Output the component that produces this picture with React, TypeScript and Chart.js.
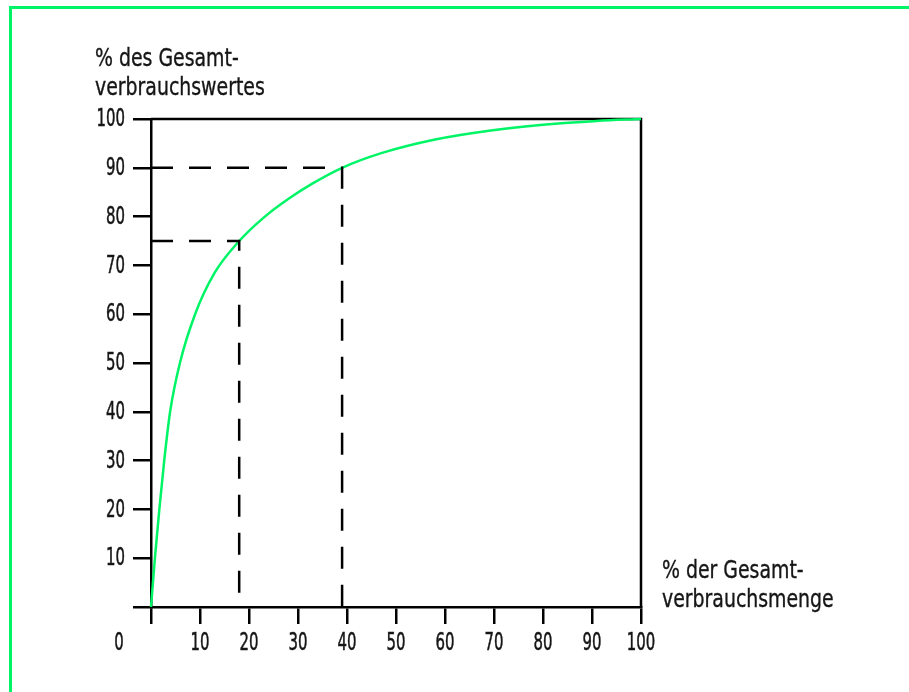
import React, { useEffect, useRef } from "react";
import { Chart, registerables } from "chart.js";

Chart.register(...registerables);

const curveX = [0, 0.8, 1.7, 2.7, 3.9, 5.9, 9, 13, 18, 23, 28, 33, 39, 47, 58, 69, 80, 91, 100];
const curveY = [0, 10, 20, 30, 40, 50, 60, 68.5, 75, 79.8, 83.6, 86.8, 90, 93, 95.8, 97.6, 98.8, 99.6, 100];

const guideA = { x: 18, y: 75 };
const guideB = { x: 39, y: 90 };

const yTickValues = [0, 10, 20, 30, 40, 50, 60, 70, 80, 90, 100];
const xTickValues = [0, 10, 20, 30, 40, 50, 60, 70, 80, 90, 100];
const yTickLabels = ["", "10", "20", "30", "40", "50", "60", "70", "80", "90", "100"];
const xTickLabels = ["", "10", "20", "30", "40", "50", "60", "70", "80", "90", "100"];

const yTitle = ["% des Gesamt-", "verbrauchswertes"];
const xTitle = ["% der Gesamt-", "verbrauchsmenge"];
const originLabel = "0";

const FONT = "'DejaVu Sans Condensed', 'DejaVu Sans', sans-serif";
const GREEN = "#00f566";
const INK = "#161616";

function drawText(ctx: CanvasRenderingContext2D, text: string, x: number, y: number, align: CanvasTextAlign, baseline: CanvasTextBaseline, sx: number, weight: number) {
  ctx.save();
  ctx.translate(x, y);
  ctx.scale(sx, 1);
  ctx.textAlign = align;
  ctx.textBaseline = baseline;
  ctx.fillText(text, 0, 0);
  ctx.lineWidth = weight;
  ctx.strokeStyle = INK;
  ctx.strokeText(text, 0, 0);
  ctx.restore();
}

export default function App() {
  const ref = useRef<HTMLCanvasElement | null>(null);

  useEffect(() => {
    if (!ref.current) return;
    const boxPlugin = {
      id: "boxAndTexts",
      beforeDatasetsDraw(chart: any) {
        const { ctx, chartArea } = chart;
        const { left, top, right, bottom } = chartArea;
        ctx.save();
        ctx.strokeStyle = "#000";
        ctx.lineWidth = 2.5;
        ctx.beginPath();
        ctx.moveTo(left, top);
        ctx.lineTo(right, top);
        ctx.lineTo(right, bottom);
        ctx.stroke();
        ctx.restore();
      },
      afterDraw(chart: any) {
        const { ctx, chartArea, scales } = chart;
        const { left, top, right, bottom } = chartArea;
        ctx.save();
        ctx.fillStyle = INK;
        ctx.font = `24px ${FONT}`;
        const ts = 0.875;
        drawText(ctx, yTitle[0], left - 56, top - 53, "left", "alphabetic", ts, 0.35);
        drawText(ctx, yTitle[1], left - 56, top - 24, "left", "alphabetic", ts, 0.35);
        drawText(ctx, xTitle[0], right + 21, bottom - 29, "left", "alphabetic", ts, 0.35);
        drawText(ctx, xTitle[1], right + 21, bottom, "left", "alphabetic", ts, 0.35);
        ctx.font = `24px ${FONT}`;
        const ds = 0.69;
        yTickValues.forEach((v, i) => {
          if (!yTickLabels[i]) return;
          drawText(ctx, yTickLabels[i], left - 26, scales.y.getPixelForValue(v) + 1, "right", "middle", ds, 0.5);
        });
        xTickValues.forEach((v, i) => {
          if (!xTickLabels[i]) return;
          drawText(ctx, xTickLabels[i], scales.x.getPixelForValue(v), bottom + 37, "center", "middle", ds, 0.5);
        });
        drawText(ctx, originLabel, left - 32, bottom + 37, "center", "middle", ds, 0.5);
        ctx.restore();
      },
    };

    const chart = new Chart(ref.current, {
      type: "line",
      data: {
        datasets: [
          {
            data: [
              { x: 0, y: guideB.y },
              { x: guideB.x, y: guideB.y },
              { x: guideB.x, y: 0 },
            ],
            borderColor: "#000",
            borderWidth: 2.5,
            borderDash: [22, 16],
            pointRadius: 0,
            tension: 0,
          },
          {
            data: [
              { x: 0, y: guideA.y },
              { x: guideA.x, y: guideA.y },
              { x: guideA.x, y: 0 },
            ],
            borderColor: "#000",
            borderWidth: 2.5,
            borderDash: [22, 16],
            pointRadius: 0,
            tension: 0,
          },
          {
            data: curveX.map((x, i) => ({ x, y: curveY[i] })),
            borderColor: GREEN,
            borderWidth: 2.5,
            pointRadius: 0,
            cubicInterpolationMode: "monotone",
            clip: false as any,
          },
        ],
      },
      options: {
        animation: false,
        responsive: false,
        maintainAspectRatio: false,
        layout: { padding: { top: 119, right: 268, left: 0, bottom: 0 } },
        plugins: { legend: { display: false }, tooltip: { enabled: false } },
        scales: {
          x: {
            type: "linear",
            min: 0,
            max: 100,
            afterFit: (s: any) => {
              s.height = 85;
            },
            afterBuildTicks: (s: any) => {
              s.ticks = xTickValues.map((v) => ({ value: v }));
            },
            border: { display: true, color: "#000", width: 2.5 },
            grid: {
              display: true,
              drawOnChartArea: false,
              drawTicks: true,
              tickLength: 17,
              color: "#000",
              lineWidth: 2.5,
            },
            ticks: { display: false, autoSkip: false, maxRotation: 0 },
          },
          y: {
            type: "linear",
            min: 0,
            max: 100,
            afterFit: (s: any) => {
              s.width = 151;
            },
            afterBuildTicks: (s: any) => {
              s.ticks = yTickValues.map((v) => ({ value: v }));
            },
            border: { display: true, color: "#000", width: 2.5 },
            grid: {
              display: true,
              drawOnChartArea: false,
              drawTicks: true,
              tickLength: 18,
              color: "#000",
              lineWidth: 2.5,
            },
            ticks: { display: false, autoSkip: false },
          },
        },
      },
      plugins: [boxPlugin],
    } as any);
    return () => chart.destroy();
  }, []);

  return (
    <div style={{ position: "fixed", left: 0, top: 0, width: 909, height: 692, overflow: "hidden", background: "#fff" }}>
      <div
        style={{
          position: "absolute",
          left: 9,
          top: 6,
          width: 1200,
          height: 1000,
          borderTop: `3px solid ${GREEN}`,
          borderLeft: `3px solid ${GREEN}`,
        }}
      />
      <canvas ref={ref} width={909} height={692} style={{ position: "absolute", left: 0, top: 0, width: 909, height: 692 }} />
    </div>
  );
}
